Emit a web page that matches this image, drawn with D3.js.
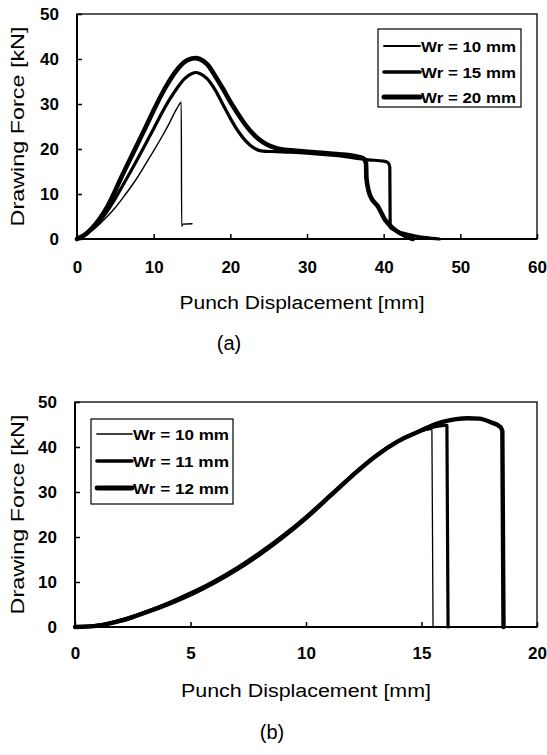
<!DOCTYPE html>
<html><head><meta charset="utf-8">
<script src="https://cdn.jsdelivr.net/npm/d3@7"></script>
<style>
html,body{margin:0;padding:0;background:#fff;}
svg{display:block;}
text{font-family:"Liberation Sans",Arial,sans-serif;fill:#000;}
</style></head>
<body><div id="chart"></div>
<script>
// ---------- Data (a) ----------
const aLabels = ["Wr = 10 mm","Wr = 15 mm","Wr = 20 mm"];
const aX10 = [0,1,2,3,4,5,6,7,8,9,10,11,12,13,13.6,13.65,13.8,15];
const aF10 = [0,0.7,1.9,3.4,5.1,7,9.2,11.5,14,16.8,19.6,22.5,25.6,28.9,30.4,2.8,3.3,3.4];
const aX15 = [0,1,2,3,4,5,6,7,8,9,10,11,12,13,14,15,15.5,16,17,18,19,20,21,22,23,24,26,30,34,38,40,40.6,40.8,40.85,41.5,42.5,44,45.5,47.3];
const aF15 = [0,0.8,2.2,4,6.3,9,12,15,18.1,21.3,24.5,27.8,30.8,33.4,35.6,36.8,37,36.8,35.6,33.2,30,26.8,24,21.8,20.3,19.6,19.4,19.1,18.5,17.6,17.3,16.9,16,2.6,1.9,1.3,0.7,0.3,0];
const aX20 = [0,1,2,3,4,5,6,7,8,9,10,11,12,13,14,15,15.5,16,17,18,19,20,21,22,23,24,25,26,28,30,33,36,37.3,37.7,37.75,38.2,39.3,40.2,41.5,42.8,43.8];
const aF20 = [0,0.9,2.5,4.6,7.3,10.8,14.5,18,21.5,25,28.6,32,35,37.5,39.3,40.1,40.2,40,38.8,36.3,33.5,30.5,27.8,25.3,23.3,21.8,20.8,20.2,19.7,19.4,19,18.5,18,16.8,13.6,9.8,7.1,4.2,2,0.7,0];
const aXTicks = [0,10,20,30,40,50,60];
const aYTicks = [0,10,20,30,40,50];

// ---------- Data (b) ----------
const bLabels = ["Wr = 10 mm","Wr = 11 mm","Wr = 12 mm"];
const bX10 = [0,0.5,1,1.5,2,2.5,3,4,5,6,7,8,9,10,11,12,13,14,15,15.45,15.5];
const bF10 = [0,0.2,0.6,1.1,1.8,2.6,3.5,5.5,7.8,10.4,13.4,16.8,20.6,24.8,29.4,34,38.2,41.5,43.4,43.9,0];
const bX11 = [0,0.5,1,1.5,2,2.5,3,4,5,6,7,8,9,10,11,12,13,14,15,15.5,16,16.1,16.15];
const bF11 = [0,0.1,0.4,0.9,1.5,2.3,3.2,5.1,7.3,9.9,12.9,16.3,20.1,24.3,29,33.7,38,41.4,43.6,44.4,44.8,44.8,0];
const bX12 = [0,0.5,1,1.5,2,2.5,3,4,5,6,7,8,9,10,11,12,13,14,15,15.5,16,16.5,17,17.5,18,18.4,18.5,18.55];
const bF12 = [0,0.1,0.3,0.8,1.4,2.2,3.1,5,7.2,9.8,12.8,16.2,20,24.2,28.9,33.6,37.9,41.3,43.7,44.9,45.7,46.2,46.4,46.3,45.5,44.5,43.6,0];
const bXTicks = [0,5,10,15,20];
const bYTicks = [0,10,20,30,40,50];

const widthsA = [1.4,3.2,4.6];
const widthsB = [1.3,3.2,4.4];

const svg = d3.select("#chart").append("svg").attr("width",547).attr("height",755);

function panel(o){
  const x = d3.scaleLinear().domain(o.xDomain).range([o.left,o.right]);
  const y = d3.scaleLinear().domain([0,50]).range([o.bottom,o.top]);
  const g = svg.append("g");
  const xa = g.append("g").attr("transform",`translate(0,${o.bottom})`)
    .call(d3.axisBottom(x).tickValues(o.xTicks).tickSizeInner(-5).tickSizeOuter(0).tickPadding(o.xPad));
  xa.select(".domain").remove();
  xa.selectAll("text").attr("font-size",17).attr("font-weight","bold").attr("font-family","Liberation Sans, Arial, sans-serif");
  xa.selectAll("line").attr("stroke","#000").attr("stroke-width",1.5);
  const ya = g.append("g").attr("transform",`translate(${o.left},0)`)
    .call(d3.axisLeft(y).tickValues(o.yTicks).tickSizeInner(-5).tickSizeOuter(0).tickPadding(18));
  ya.select(".domain").remove();
  ya.selectAll("text").attr("font-size",17).attr("font-weight","bold").attr("font-family","Liberation Sans, Arial, sans-serif");
  ya.selectAll("line").attr("stroke","#000").attr("stroke-width",1.5);
  g.append("rect").attr("x",o.left).attr("y",o.top).attr("width",o.right-o.left).attr("height",o.bottom-o.top)
    .attr("fill","none").attr("stroke","#000").attr("stroke-width",1.3);
  g.append("line").attr("x1",o.left).attr("x2",o.right).attr("y1",o.bottom).attr("y2",o.bottom).attr("stroke","#000").attr("stroke-width",2);
  g.append("line").attr("x1",o.left).attr("x2",o.left).attr("y1",o.top).attr("y2",o.bottom).attr("stroke","#000").attr("stroke-width",2);
  const line = d3.line().x(d=>x(d[0])).y(d=>y(d[1])).curve(d3.curveMonotoneX);
  for (let i=o.series.length-1;i>=0;i--){
    const s = o.series[i];
    const pts = s.xs.map((v,k)=>[v,s.fs[k]]);
    g.append("path").attr("d",line(pts)).attr("fill","none").attr("stroke","#000")
      .attr("stroke-width",o.widths[i]).attr("stroke-linejoin","round").attr("stroke-linecap","round");
  }
  const L = o.legend;
  g.append("rect").attr("x",L.x).attr("y",L.y).attr("width",L.w).attr("height",L.h)
    .attr("fill","#fff").attr("stroke","#000").attr("stroke-width",1.2);
  o.labels.forEach((lab,i)=>{
    const cy = L.rows[i];
    g.append("line").attr("x1",L.x+6).attr("x2",L.lineEnd).attr("y1",cy).attr("y2",cy)
      .attr("stroke","#000").attr("stroke-width",o.widths[i]+0.4).attr("stroke-linecap","round");
    g.append("text").attr("x",L.lineEnd+1).attr("y",cy+5.5).attr("font-size",15).attr("font-weight","bold")
      .attr("textLength",L.tw).attr("lengthAdjust","spacingAndGlyphs").text(lab);
  });
  g.append("text").attr("x",(o.left+o.right)/2 + o.xtShift).attr("y",o.xTitleY).attr("text-anchor","middle")
    .attr("font-size",18).attr("textLength",o.xTitleW).attr("lengthAdjust","spacingAndGlyphs")
    .text("Punch Displacement [mm]");
  g.append("text").attr("transform",`translate(${o.yTitleX},${(o.top+o.bottom)/2}) rotate(-90)`)
    .attr("text-anchor","middle").attr("font-size",18).attr("textLength",200).attr("lengthAdjust","spacingAndGlyphs")
    .text("Drawing Force [kN]");
  g.append("text").attr("x",o.capX).attr("y",o.capY).attr("text-anchor","middle").attr("font-size",20)
    .text(o.caption);
}

panel({
  xDomain:[0,60], left:77, right:537, top:14, bottom:239, xTicks:aXTicks, yTicks:aYTicks, xPad:22,
  series:[{xs:aX10,fs:aF10},{xs:aX15,fs:aF15},{xs:aX20,fs:aF20}], widths:widthsA, labels:aLabels,
  legend:{x:378,y:29,w:143,h:78,rows:[46,72,97],lineEnd:420,tw:95},
  xTitleY:309, xTitleW:245, xtShift:-5, yTitleX:24, caption:"(a)", capX:229, capY:350
});
panel({
  xDomain:[0,20], left:75, right:537, top:402, bottom:627, xTicks:bXTicks, yTicks:bYTicks, xPad:20,
  series:[{xs:bX10,fs:bF10},{xs:bX11,fs:bF11},{xs:bX12,fs:bF12}], widths:widthsB, labels:bLabels,
  legend:{x:91,y:419,w:142,h:85,rows:[434,461,488],lineEnd:132,tw:96},
  xTitleY:697, xTitleW:250, xtShift:0, yTitleX:24, caption:"(b)", capX:272, capY:739
});
</script></body></html>
